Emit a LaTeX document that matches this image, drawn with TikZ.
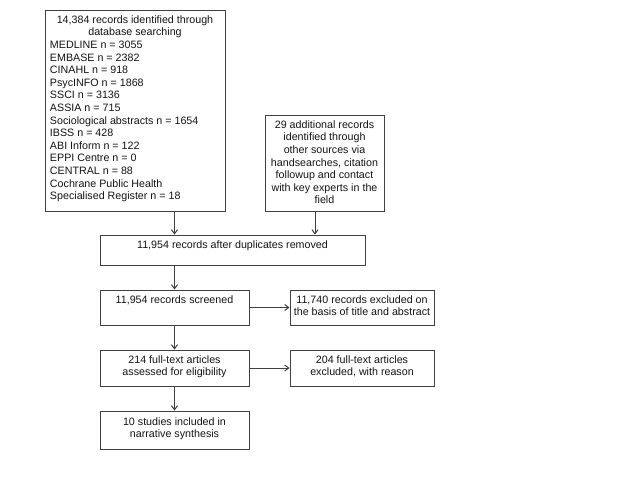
\documentclass[tikz,border=0pt]{standalone}
\usepackage{fontspec}
\setmainfont{Liberation Sans}
\usetikzlibrary{arrows.meta}
\definecolor{linegray}{RGB}{64,64,64}
\definecolor{textgray}{RGB}{20,20,20}
\newcommand{\bx}[4]{\parbox[c][#2pt][t]{#1pt}{\vspace*{#3pt}#4}}
\tikzset{
  box/.style={draw=linegray, line width=1pt, inner sep=0pt, text=textgray,
    font=\fontsize{10.7}{12.6}\selectfont},
  arr/.style={draw=linegray, line width=1pt, -{Straight Barb[length=4pt,width=6pt]}}
}
\begin{document}
\begin{tikzpicture}[x=1pt,y=-1pt]
\useasboundingbox (0,0) rectangle (640,480);
\fill[white] (0,0) rectangle (640,480);
\node[box] (b1) at (135,110.5) {\bx{180}{201}{5.5}{\centering 14,384 records identified through\\ database searching\par
\raggedright\leftskip=5pt MEDLINE n = 3055\\ EMBASE n = 2382\\ CINAHL n = 918\\ PsycINFO n = 1868\\ SSCI n = 3136\\ ASSIA n = 715\\ Sociological abstracts n = 1654\\ IBSS n = 428\\ ABI Inform n = 122\\ EPPI Centre n = 0\\ CENTRAL n = 88\\ Cochrane Public Health\\ Specialised Register n = 18\par}};
\node[box] (b2) at (324.5,163) {\bx{119}{96}{5.5}{\centering 29 additional records\\ identified through\\ other sources via\\ handsearches, citation\\ followup and contact\\ with key experts in the\\ field\par}};
\node[box] (b3) at (232.5,250) {\bx{265}{30}{5.5}{\centering 11,954 records after duplicates removed\par}};
\node[box] (b4) at (174.5,307.5) {\bx{149}{35}{5.5}{\centering 11,954 records screened\par}};
\node[box] (b5) at (362,307.5) {\bx{144}{35}{5.5}{\centering 11,740 records excluded on\\ the basis of title and abstract\par}};
\node[box] (b6) at (174.5,368) {\bx{149}{36}{5.5}{\centering 214 full-text articles\\ assessed for eligibility\par}};
\node[box] (b7) at (362,368) {\bx{144}{36}{5.5}{\centering 204 full-text articles\\ excluded, with reason\par}};
\node[box] (b8) at (174.5,430) {\bx{149}{38}{6.5}{\centering 10 studies included in\\ narrative synthesis\par}};
\coordinate (c2) at (315,0);
\draw[arr] (b1.south -| b4.north) -- (b3.north -| b4.north);
\draw[arr] (b2.south -| c2) -- (b3.north -| c2);
\draw[arr] (b3.south -| b4.north) -- (b4.north);
\draw[arr] (b4.east) -- (b5.west);
\draw[arr] (b4.south) -- (b6.north);
\draw[arr] (b6.east) -- (b7.west);
\draw[arr] (b6.south) -- (b8.north);
\end{tikzpicture}
\end{document}
